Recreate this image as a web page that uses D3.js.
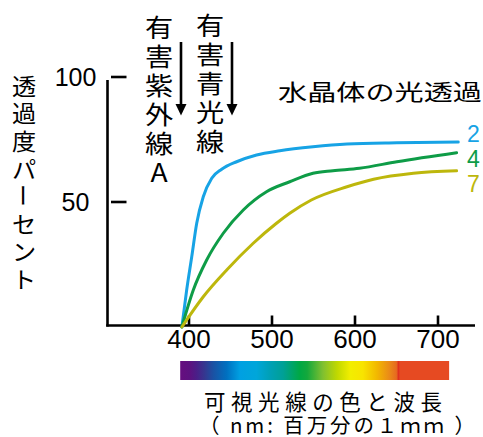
<!DOCTYPE html>
<html><head><meta charset="utf-8">
<script src="https://cdn.jsdelivr.net/npm/d3@7"></script>
<style>html,body{margin:0;padding:0;background:#fff;} svg{display:block}</style>
</head><body><svg id="c" width="483" height="437"></svg>
<script>
// ---- data ----
const wavelengthTicks = [400, 500, 600, 700];
const percentTicks = [50, 100];
const ages = ["2", "4", "7"];
const age2 = [[392,0],[397.8,14.8],[403.9,28.1],[409.9,41.5],[417.8,52.1],[428,59.5],[440,63.1],[458,66.1],[482,68.8],[510,70.5],[550,72.1],[591,73.2],[651,73.7],[725,74.0]];
const age4 = [[392,0],[405.8,14.8],[421.9,26.8],[441.9,37.5],[466,46.8],[494,54.1],[522,58.1],[550,61.5],[574,62.5],[606,63.5],[651,66.1],[723,69.7]];
const age7 = [[392,0],[417.8,12.1],[446,22.8],[478,33.5],[506,41.5],[522,45.5],[548,50.8],[591,56.1],[623,59.1],[671,61.5],[723,62.5]];
const seriesData = [age2, age4, age7];
const seriesColors = ["#17a3e5", "#0e9c47", "#bdb70c"];
const chartTitle = "水晶体の光透過";
const yAxisTitle = "透過度パーセント";
const uvaLabel = "有害紫外線A";
const blueLightLabel = "有害青光線";
const captionLine1 = "可視光線の色と波長";
const captionLine2 = "（ nm: 百万分の１ｍｍ ）";
const spectrumRange = [390, 714];
const spectrumStops = [
  [390,"#660e7f"],[402,"#5c1280"],[410,"#4a1f88"],[419,"#36368f"],[430,"#1a52a4"],
  [446,"#0070c0"],[462,"#00a0e2"],[482,"#00a6da"],[498,"#00a0b6"],[514,"#00a096"],
  [534,"#00a844"],[543,"#14a83c"],[562,"#80c030"],[579,"#c0d800"],[595,"#f2ee00"],
  [610,"#f8e400"],[627,"#f2b800"],[642,"#ea8a18"],[650.5,"#e66a20"],[653,"#df301e"],
  [655,"#e64a22"],[714,"#e64a22"]
];

// ---- drawing ----
const svg = d3.select("#c");
const x = d3.scaleLinear().domain([400, 700]).range([188.5, 437.5]);
const y = d3.scaleLinear().domain([0, 100]).range([327, 77]);
const latin = "'Liberation Sans', Arial, sans-serif";
const cjk = "'Noto Sans CJK JP', sans-serif";

// gradient
const defs = svg.append("defs");
const grad = defs.append("linearGradient").attr("id","spec")
  .attr("gradientUnits","userSpaceOnUse")
  .attr("x1", x(spectrumRange[0])).attr("x2", x(spectrumRange[1]))
  .attr("y1", 0).attr("y2", 0);
grad.selectAll("stop").data(spectrumStops).join("stop")
  .attr("offset", d => (d[0]-spectrumRange[0])/(spectrumRange[1]-spectrumRange[0]))
  .attr("stop-color", d => d[1]);
svg.append("rect")
  .attr("x", x(spectrumRange[0])).attr("width", x(spectrumRange[1]) - x(spectrumRange[0]))
  .attr("y", 361).attr("height", 19).attr("fill", "url(#spec)");

// axes lines
svg.append("line").attr("x1",107.5).attr("x2",107.5).attr("y1",80).attr("y2",326.5)
  .attr("stroke","#000").attr("stroke-width",2.6);
svg.append("line").attr("x1",106.2).attr("x2",475).attr("y1",325.5).attr("y2",325.5)
  .attr("stroke","#000").attr("stroke-width",2.6);

// x axis ticks
const xAxis = d3.axisBottom(x).tickValues(wavelengthTicks).tickSizeInner(-10).tickSizeOuter(0).tickPadding(4.5);
const gx = svg.append("g").attr("transform","translate(0,325.5)").call(xAxis);
gx.select(".domain").remove();
gx.selectAll(".tick line").attr("stroke","#000").attr("stroke-width",2.6);
gx.selectAll(".tick text").attr("fill","#000").style("font-family", latin).style("font-size","26px");

// y ticks
svg.selectAll(".ytick").data(percentTicks).join("line").attr("class","ytick")
  .attr("x1",111).attr("x2",126.5).attr("y1", d => y(d)).attr("y2", d => y(d))
  .attr("stroke","#000").attr("stroke-width",2.6);
svg.selectAll(".ylab").data(percentTicks).join("text").attr("class","ylab")
  .attr("x",75.5).attr("y", d => y(d) + 9).attr("text-anchor","middle")
  .style("font-family", latin).style("font-size","25px").attr("fill","#000")
  .text(d => d);

// curves
const line = d3.line().x(d => x(d[0])).y(d => y(d[1])).curve(d3.curveMonotoneX);
svg.selectAll(".curve").data(seriesData).join("path").attr("class","curve")
  .attr("d", line).attr("fill","none")
  .attr("stroke", (d,i) => seriesColors[i]).attr("stroke-width",3)
  .attr("stroke-linejoin","round").attr("stroke-linecap","round");

// series labels
const labelBaselines = [141.5, 167, 192];
svg.selectAll(".slab").data(ages).join("text").attr("class","slab")
  .attr("x",467).attr("y",(d,i) => labelBaselines[i])
  .style("font-family", latin).style("font-size","23px")
  .attr("fill",(d,i) => seriesColors[i]).text(d => d);

// vertical text: one text per character, stacked
function vtext(str, cx, cy0, pitch, size, sx) {
  const g = svg.append("g");
  Array.from(str).forEach((ch, i) => {
    const rot = (ch === "ー") ? " rotate(90)" : "";
    g.append("text")
      .attr("transform", `translate(${cx},${cy0 + i*pitch}) scale(${sx},1)${rot}`)
      .attr("text-anchor","middle").attr("dominant-baseline","central")
      .style("font-family", cjk).style("font-size", size + "px").attr("fill","#000")
      .text(ch);
  });
}
vtext(yAxisTitle, 24, 85, 27.6, 23, 1.05);
vtext(uvaLabel, 159, 26, 29.1, 25, 1.13);
vtext(blueLightLabel, 210, 24, 29.1, 25, 1.13);

// arrows
[181, 232].forEach(ax => {
  svg.append("line").attr("x1",ax).attr("x2",ax).attr("y1",42).attr("y2",106)
    .attr("stroke","#000").attr("stroke-width",2.6);
  svg.append("path").attr("d",`M${ax-5.5},104 L${ax+5.5},104 L${ax},115.5 Z`).attr("fill","#000");
});

// title
svg.append("text").attr("x",278).attr("y",90).attr("dominant-baseline","central")
  .attr("textLength",204).attr("lengthAdjust","spacingAndGlyphs")
  .style("font-family", cjk).style("font-size","22px").attr("fill","#000").text(chartTitle);

// captions
svg.append("text").attr("x",204).attr("y",400.5).attr("dominant-baseline","central")
  .attr("textLength",238).attr("lengthAdjust","spacing")
  .style("font-family", cjk).style("font-size","21.5px").attr("fill","#000").text(captionLine1);
svg.append("text").attr("x",199).attr("y",423.5).attr("dominant-baseline","central")
  .attr("textLength",276).attr("lengthAdjust","spacing")
  .style("font-family", cjk).style("font-size","20.5px").attr("fill","#000").text(captionLine2);
</script></body></html>
